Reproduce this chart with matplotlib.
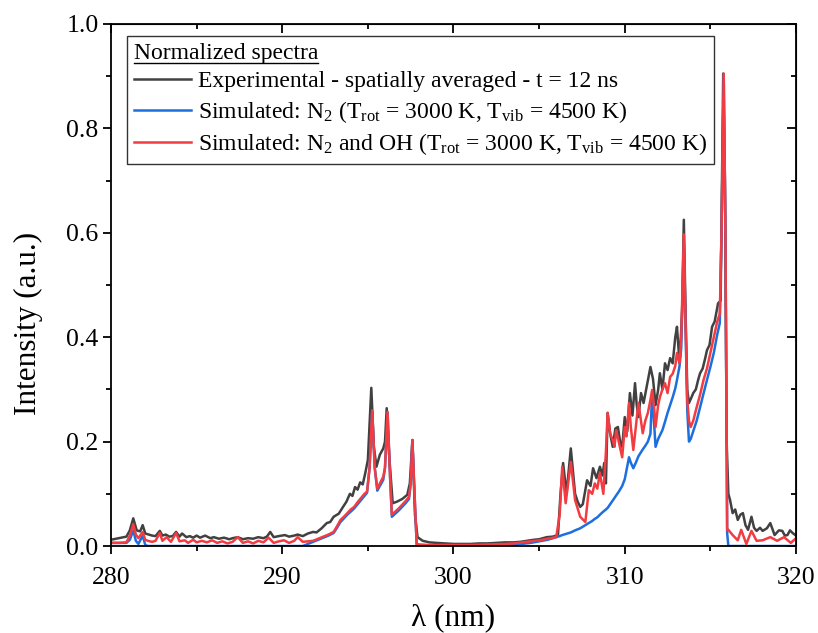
import matplotlib
matplotlib.use("Agg")
import matplotlib.pyplot as plt
from matplotlib.ticker import MultipleLocator
from matplotlib.lines import Line2D

plt.rcParams['font.family'] = ['Liberation Serif', 'DejaVu Serif']
plt.rcParams['mathtext.fontset'] = 'custom'
plt.rcParams['mathtext.rm'] = 'Liberation Serif'
plt.rcParams['mathtext.it'] = 'Liberation Serif:italic'
plt.rcParams['mathtext.bf'] = 'Liberation Serif:bold'

# ---------------- data ----------------
wl_exp = [280.0, 280.3, 280.6, 280.9, 281.1, 281.3, 281.5, 281.7, 281.85, 282.0,
          282.2, 282.4, 282.6, 282.85, 283.0, 283.2, 283.4, 283.6, 283.8, 284.0,
          284.15, 284.4, 284.6, 284.8, 285.0, 285.2, 285.5, 285.8, 286.0, 286.3,
          286.6, 286.9, 287.1, 287.4, 287.7, 288.0, 288.3, 288.6, 288.9, 289.1,
          289.3, 289.5, 289.8, 290.15, 290.4, 290.7, 290.9, 291.2, 291.5, 291.8,
          292.0, 292.3, 292.6, 292.8, 293.0, 293.3, 293.55, 293.75, 293.95, 294.1,
          294.25, 294.4, 294.55, 294.7, 294.85, 295.0, 295.2, 295.35, 295.5, 295.7,
          295.9, 296.0, 296.1, 296.25, 296.45, 296.7, 297.0, 297.3, 297.45, 297.6,
          297.75, 297.9, 298.2, 298.6, 299.0, 299.5, 300.0, 300.5, 301.0, 301.5,
          302.0, 302.5, 303.0, 303.5, 303.9, 304.3, 304.7, 305.0, 305.45, 305.8,
          306.1, 306.25, 306.4, 306.6, 306.85, 307.1, 307.25, 307.4, 307.55, 307.8,
          308.0, 308.15, 308.35, 308.55, 308.7, 308.8, 308.9, 309.0, 309.15, 309.3,
          309.45, 309.6, 309.75, 309.85, 310.0, 310.15, 310.3, 310.45, 310.6, 310.7,
          310.8, 310.95, 311.1, 311.3, 311.5, 311.65, 311.8, 311.95, 312.05, 312.2,
          312.35, 312.5, 312.65, 312.8, 312.95, 313.05, 313.2, 313.35, 313.45, 313.55,
          313.65, 313.75, 313.9, 314.0, 314.15, 314.3, 314.4, 314.55, 314.7, 314.8,
          314.95, 315.1, 315.25, 315.45, 315.6, 315.75, 315.85, 315.95, 316.05, 316.15,
          316.3, 316.45, 316.6, 316.75, 316.9, 317.05, 317.2, 317.4, 317.55, 317.7,
          317.9, 318.05, 318.3, 318.5, 318.75, 319.0, 319.2, 319.35, 319.5, 319.65,
          319.8, 320.0]
exp_int = [0.012, 0.014, 0.016, 0.018, 0.030, 0.053, 0.030, 0.028, 0.040, 0.024,
           0.022, 0.020, 0.019, 0.029, 0.020, 0.022, 0.018, 0.019, 0.027, 0.018,
           0.024, 0.017, 0.019, 0.016, 0.020, 0.016, 0.020, 0.015, 0.017, 0.014,
           0.016, 0.013, 0.015, 0.017, 0.013, 0.015, 0.014, 0.017, 0.015, 0.018,
           0.027, 0.017, 0.019, 0.021, 0.018, 0.020, 0.022, 0.019, 0.024, 0.027,
           0.026, 0.034, 0.044, 0.046, 0.056, 0.062, 0.075, 0.085, 0.100, 0.096,
           0.113, 0.108, 0.122, 0.118, 0.140, 0.165, 0.303, 0.190, 0.152, 0.175,
           0.187, 0.200, 0.264, 0.170, 0.082, 0.085, 0.090, 0.098, 0.120, 0.203,
           0.060, 0.017, 0.010, 0.007, 0.006, 0.005, 0.004, 0.004, 0.004, 0.005,
           0.005, 0.006, 0.007, 0.007, 0.008, 0.010, 0.012, 0.013, 0.017, 0.018,
           0.021, 0.100, 0.159, 0.100, 0.187, 0.100, 0.085, 0.075, 0.080, 0.126,
           0.115, 0.149, 0.130, 0.152, 0.135, 0.159, 0.120, 0.255, 0.215, 0.190,
           0.225, 0.228, 0.195, 0.190, 0.247, 0.220, 0.293, 0.250, 0.312, 0.270,
           0.247, 0.293, 0.274, 0.308, 0.343, 0.320, 0.270, 0.299, 0.331, 0.300,
           0.350, 0.337, 0.360, 0.350, 0.400, 0.420, 0.350, 0.450, 0.625, 0.450,
           0.300, 0.274, 0.285, 0.293, 0.300, 0.320, 0.331, 0.340, 0.360, 0.375,
           0.385, 0.420, 0.430, 0.465, 0.470, 0.905, 0.700, 0.200, 0.100, 0.088,
           0.063, 0.070, 0.050, 0.060, 0.063, 0.040, 0.031, 0.056, 0.035, 0.029,
           0.035, 0.029, 0.034, 0.044, 0.021, 0.030, 0.029, 0.020, 0.021, 0.030,
           0.025, 0.020]

wl_sim = [280.0, 280.5, 280.9, 281.1, 281.3, 281.45, 281.6, 281.85, 282.0, 282.15,
          282.4, 282.6, 282.85, 283.0, 283.25, 283.5, 283.8, 284.0, 284.3, 284.5,
          284.8, 285.0, 285.3, 285.6, 285.9, 286.2, 286.5, 286.8, 287.1, 287.4,
          287.7, 288.0, 288.3, 288.6, 288.9, 289.2, 289.5, 289.8, 290.1, 290.4,
          290.7, 290.9, 291.2, 291.5, 291.8, 292.1, 292.4, 292.7, 293.0, 293.2,
          293.4, 293.6, 293.8, 294.0, 294.2, 294.4, 294.6, 294.8, 294.95, 295.1,
          295.25, 295.4, 295.55, 295.7, 295.9, 296.0, 296.15, 296.3, 296.4, 296.6,
          296.8, 297.0, 297.2, 297.4, 297.5, 297.6, 297.7, 297.85, 298.0, 298.5,
          299.0, 300.0, 301.0, 302.0, 303.0, 303.5, 304.0, 304.5, 305.0, 305.5,
          306.0, 306.2, 306.35, 306.55, 306.85, 307.1, 307.4, 307.7, 307.9, 308.1,
          308.25, 308.4, 308.55, 308.75, 308.9, 309.0, 309.15, 309.3, 309.4, 309.5,
          309.65, 309.85, 310.0, 310.1, 310.25, 310.35, 310.5, 310.65, 310.8, 310.95,
          311.05, 311.2, 311.35, 311.5, 311.6, 311.7, 311.8, 311.95, 312.05, 312.2,
          312.35, 312.5, 312.65, 312.8, 312.95, 313.05, 313.2, 313.3, 313.45, 313.55,
          313.65, 313.75, 313.85, 314.0, 314.2, 314.4, 314.6, 314.8, 315.0, 315.2,
          315.4, 315.55, 315.65, 315.78, 315.88, 315.98, 316.05, 316.3, 316.6, 316.8,
          317.1, 317.4, 317.7, 318.05, 318.5, 318.9, 319.3, 319.7, 320.0]
n2_int = [0.006, 0.006, 0.006, 0.012, 0.030, 0.010, 0.004, 0.020, 0.002, 0.0,
          0.0, 0.0, 0.0, 0.0, 0.0, 0.0, 0.0, 0.0, 0.0, 0.0,
          0.0, 0.0, 0.0, 0.0, 0.0, 0.0, 0.0, 0.0, 0.0, 0.0,
          0.0, 0.0, 0.0, 0.0, 0.0, 0.0, 0.0, 0.0, 0.0, 0.0,
          0.0, 0.0, 0.0, 0.004, 0.008, 0.012, 0.016, 0.020, 0.025, 0.035,
          0.046, 0.053, 0.060, 0.066, 0.072, 0.080, 0.088, 0.096, 0.102, 0.150,
          0.258, 0.150, 0.106, 0.115, 0.127, 0.150, 0.255, 0.130, 0.056, 0.062,
          0.068, 0.075, 0.082, 0.090, 0.120, 0.203, 0.120, 0.002, 0.0, 0.0,
          0.0, 0.0, 0.0, 0.0, 0.001, 0.002, 0.004, 0.006, 0.009, 0.012,
          0.017, 0.019, 0.021, 0.023, 0.026, 0.030, 0.034, 0.040, 0.044, 0.048,
          0.052, 0.055, 0.060, 0.066, 0.070, 0.073, 0.080, 0.087, 0.092, 0.097,
          0.104, 0.115, 0.128, 0.145, 0.170, 0.160, 0.149, 0.160, 0.172, 0.180,
          0.185, 0.192, 0.200, 0.215, 0.293, 0.240, 0.190, 0.205, 0.212, 0.222,
          0.238, 0.255, 0.270, 0.285, 0.302, 0.318, 0.345, 0.380, 0.580, 0.420,
          0.260, 0.200, 0.205, 0.220, 0.240, 0.266, 0.292, 0.318, 0.343, 0.370,
          0.405, 0.427, 0.600, 0.900, 0.600, 0.025, 0.0, 0.0, 0.0, 0.0,
          0.0, 0.0, 0.0, 0.0, 0.0, 0.0, 0.0, 0.0, 0.0]
n2oh_int = [0.006, 0.006, 0.007, 0.020, 0.042, 0.022, 0.015, 0.027, 0.012, 0.010,
            0.008, 0.010, 0.025, 0.010, 0.017, 0.008, 0.025, 0.009, 0.011, 0.006,
            0.012, 0.007, 0.010, 0.007, 0.011, 0.006, 0.009, 0.005, 0.008, 0.017,
            0.006, 0.009, 0.005, 0.010, 0.007, 0.016, 0.006, 0.009, 0.011, 0.006,
            0.010, 0.017, 0.008, 0.009, 0.010, 0.014, 0.018, 0.022, 0.027, 0.038,
            0.050, 0.056, 0.063, 0.070, 0.075, 0.084, 0.092, 0.100, 0.104, 0.150,
            0.260, 0.150, 0.110, 0.120, 0.133, 0.150, 0.257, 0.130, 0.060, 0.066,
            0.072, 0.079, 0.086, 0.094, 0.120, 0.203, 0.120, 0.004, 0.003, 0.002,
            0.002, 0.002, 0.002, 0.003, 0.004, 0.005, 0.007, 0.009, 0.011, 0.014,
            0.017, 0.060, 0.152, 0.082, 0.161, 0.088, 0.056, 0.046, 0.107, 0.100,
            0.120, 0.110, 0.140, 0.100, 0.180, 0.255, 0.215, 0.203, 0.190, 0.222,
            0.200, 0.170, 0.228, 0.210, 0.274, 0.230, 0.184, 0.230, 0.274, 0.240,
            0.216, 0.240, 0.255, 0.280, 0.299, 0.270, 0.228, 0.270, 0.285, 0.300,
            0.312, 0.293, 0.324, 0.330, 0.345, 0.370, 0.350, 0.400, 0.597, 0.430,
            0.280, 0.240, 0.228, 0.240, 0.266, 0.290, 0.318, 0.340, 0.370, 0.400,
            0.430, 0.445, 0.600, 0.905, 0.600, 0.031, 0.031, 0.021, 0.011, 0.031,
            0.004, 0.029, 0.010, 0.011, 0.017, 0.010, 0.017, 0.006, 0.015]

labels = ["Experimental - spatially averaged - t = 12 ns",
          r"Simulated: N$_2$ (T$_{\rm rot}$ = 3000 K, T$_{\rm vib}$ = 4500 K)",
          r"Simulated: N$_2$ and OH (T$_{\rm rot}$ = 3000 K, T$_{\rm vib}$ = 4500 K)"]
legend_title = "Normalized spectra"
x_label = "λ (nm)"
y_label = "Intensity (a.u.)"

# ---------------- plot ----------------
fig = plt.figure(figsize=(8.18, 6.33), dpi=100)
ax = fig.add_axes([0.1357, 0.1374, 0.9731 - 0.1357, 0.9621 - 0.1374])

c_exp, c_n2, c_oh = '#414141', '#1c6fde', '#f23c41'
lw = 1.8
ax.plot(wl_exp, exp_int, color=c_exp, lw=lw, label=labels[0])
ax.plot(wl_sim, n2_int, color=c_n2, lw=lw, label=labels[1])
ax.plot(wl_sim, n2oh_int, color=c_oh, lw=lw, label=labels[2])

ax.set_xlim(280, 320)
ax.set_ylim(0, 1.0)
ax.xaxis.set_major_locator(MultipleLocator(10))
ax.xaxis.set_minor_locator(MultipleLocator(5))
ax.yaxis.set_major_locator(MultipleLocator(0.2))
ax.yaxis.set_minor_locator(MultipleLocator(0.1))
ax.yaxis.set_major_formatter(matplotlib.ticker.FormatStrFormatter('%.1f'))

for sp in ax.spines.values():
    sp.set_linewidth(1.3)

ax.tick_params(which='both', direction='out', labelsize=18.5, width=1.3,
               top=False, right=False)
ax.tick_params(which='major', length=6)
ax.tick_params(which='minor', length=3.5)
ax.tick_params(axis='x', pad=9)
ax.tick_params(axis='y', pad=3)

secx = ax.secondary_xaxis('top')
secx.xaxis.set_major_locator(MultipleLocator(10))
secx.xaxis.set_minor_locator(MultipleLocator(5))
secx.tick_params(which='both', direction='in', labeltop=False, width=1.3)
secx.tick_params(which='major', length=6.5)
secx.tick_params(which='minor', length=3.5)
secy = ax.secondary_yaxis('right')
secy.yaxis.set_major_locator(MultipleLocator(0.2))
secy.yaxis.set_minor_locator(MultipleLocator(0.1))
secy.tick_params(which='both', direction='in', labelright=False, width=1.3)
secy.tick_params(which='major', length=6.5)
secy.tick_params(which='minor', length=3.5)

ax.set_xlabel(x_label, fontsize=22.5)
ax.set_ylabel(y_label, fontsize=22.5)
ax.xaxis.set_label_coords(0.499, -0.11)
ax.yaxis.set_label_coords(-0.1, 0.427)

leg = ax.legend(loc='upper left', bbox_to_anchor=(0.023, 0.977), fontsize=17,
                title=legend_title, title_fontsize=17, alignment='left',
                frameon=True, fancybox=False, edgecolor='black',
                handlelength=2.4, handletextpad=0.3, borderpad=0.3,
                labelspacing=0.28, borderaxespad=0.0)
leg.get_frame().set_linewidth(1.0)

fig.canvas.draw()
tb = leg.get_title().get_window_extent(fig.canvas.get_renderer())
inv = fig.transFigure.inverted()
(x0, y0), (x1, y1) = inv.transform([(tb.x0, tb.y0 + 1), (tb.x1, tb.y0 + 1)])
fig.add_artist(Line2D([x0, x1], [y0, y1], color='black', lw=1.0,
                      transform=fig.transFigure))

fig.savefig('out.png', dpi=100)
